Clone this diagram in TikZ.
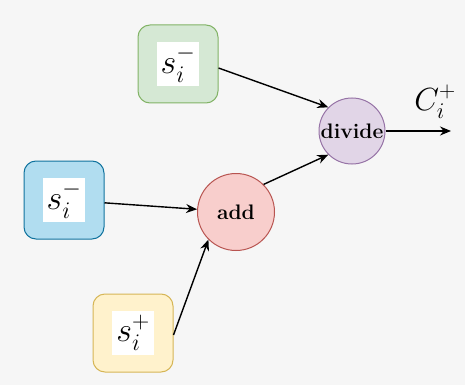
\RequirePackage{fix-cm}
\documentclass[tikz,border=0pt]{standalone}
\usepackage{amsmath,amssymb}
\usepackage{xcolor}
\usetikzlibrary{arrows.meta}

\definecolor{bgGray}{HTML}{F6F6F6}
\definecolor{greenFill}{HTML}{D5E8D4}
\definecolor{greenLine}{HTML}{82B366}
\definecolor{blueFill}{HTML}{B1DDF0}
\definecolor{blueLine}{HTML}{10739E}
\definecolor{yellowFill}{HTML}{FFF2CC}
\definecolor{yellowLine}{HTML}{D6B656}
\definecolor{redFill}{HTML}{F8CECC}
\definecolor{redLine}{HTML}{B85450}
\definecolor{purpleFill}{HTML}{E1D5E7}
\definecolor{purpleLine}{HTML}{9673A6}

\begin{document}
\begin{tikzpicture}[
    x=1pt, y=-1pt,
    inbox/.style={rectangle, rounded corners=12pt, line width=1pt, minimum width=80pt, minimum height=78pt, inner sep=0pt},
    symb/.style={fill=white, inner sep=0pt, minimum width=42pt, minimum height=44pt, font=\fontsize{34}{34}\selectfont},
    op/.style={circle, line width=1pt, inner sep=0pt, font=\bfseries\fontsize{21}{21}\selectfont},
    arrow/.style={-{Stealth[length=11pt,width=9pt]}, line width=1.4pt},
]
\fill[bgGray] (0,0) rectangle (465,385);
\useasboundingbox (0,0) rectangle (465,385);

% Input boxes
\node[inbox, draw=greenLine, fill=greenFill] (sminA) at (178,64) {};
\node[symb] at (sminA) {$s_i^{-}$};
\node[inbox, draw=blueLine, fill=blueFill] (sminB) at (64,200) {};
\node[symb] at (sminB) {$s_i^{-}$};
\node[inbox, draw=yellowLine, fill=yellowFill] (splus) at (133,333) {};
\node[symb] at (splus) {$s_i^{+}$};

% Operations
\node[op, draw=redLine, fill=redFill, minimum size=77pt] (add) at (236,212) {add};
\node[op, draw=purpleLine, fill=purpleFill, minimum size=66pt] (divide) at (352,131) {divide};
\coordinate (out) at (451,131);

% Arrows
\draw[arrow] (sminA.east |- 0,68) -- (divide.north west);
\draw[arrow] (sminB) -- (add);
\draw[arrow] (splus.east |- 0,335) -- (add.south west);
\draw[arrow] (add.north east) -- (divide.south west);
\draw[arrow] (divide) -- (out);

% Output label
\node[font=\fontsize{32}{32}\selectfont] (cplus) at (435,102) {$C_i^{+}$};

\end{tikzpicture}
\end{document}
